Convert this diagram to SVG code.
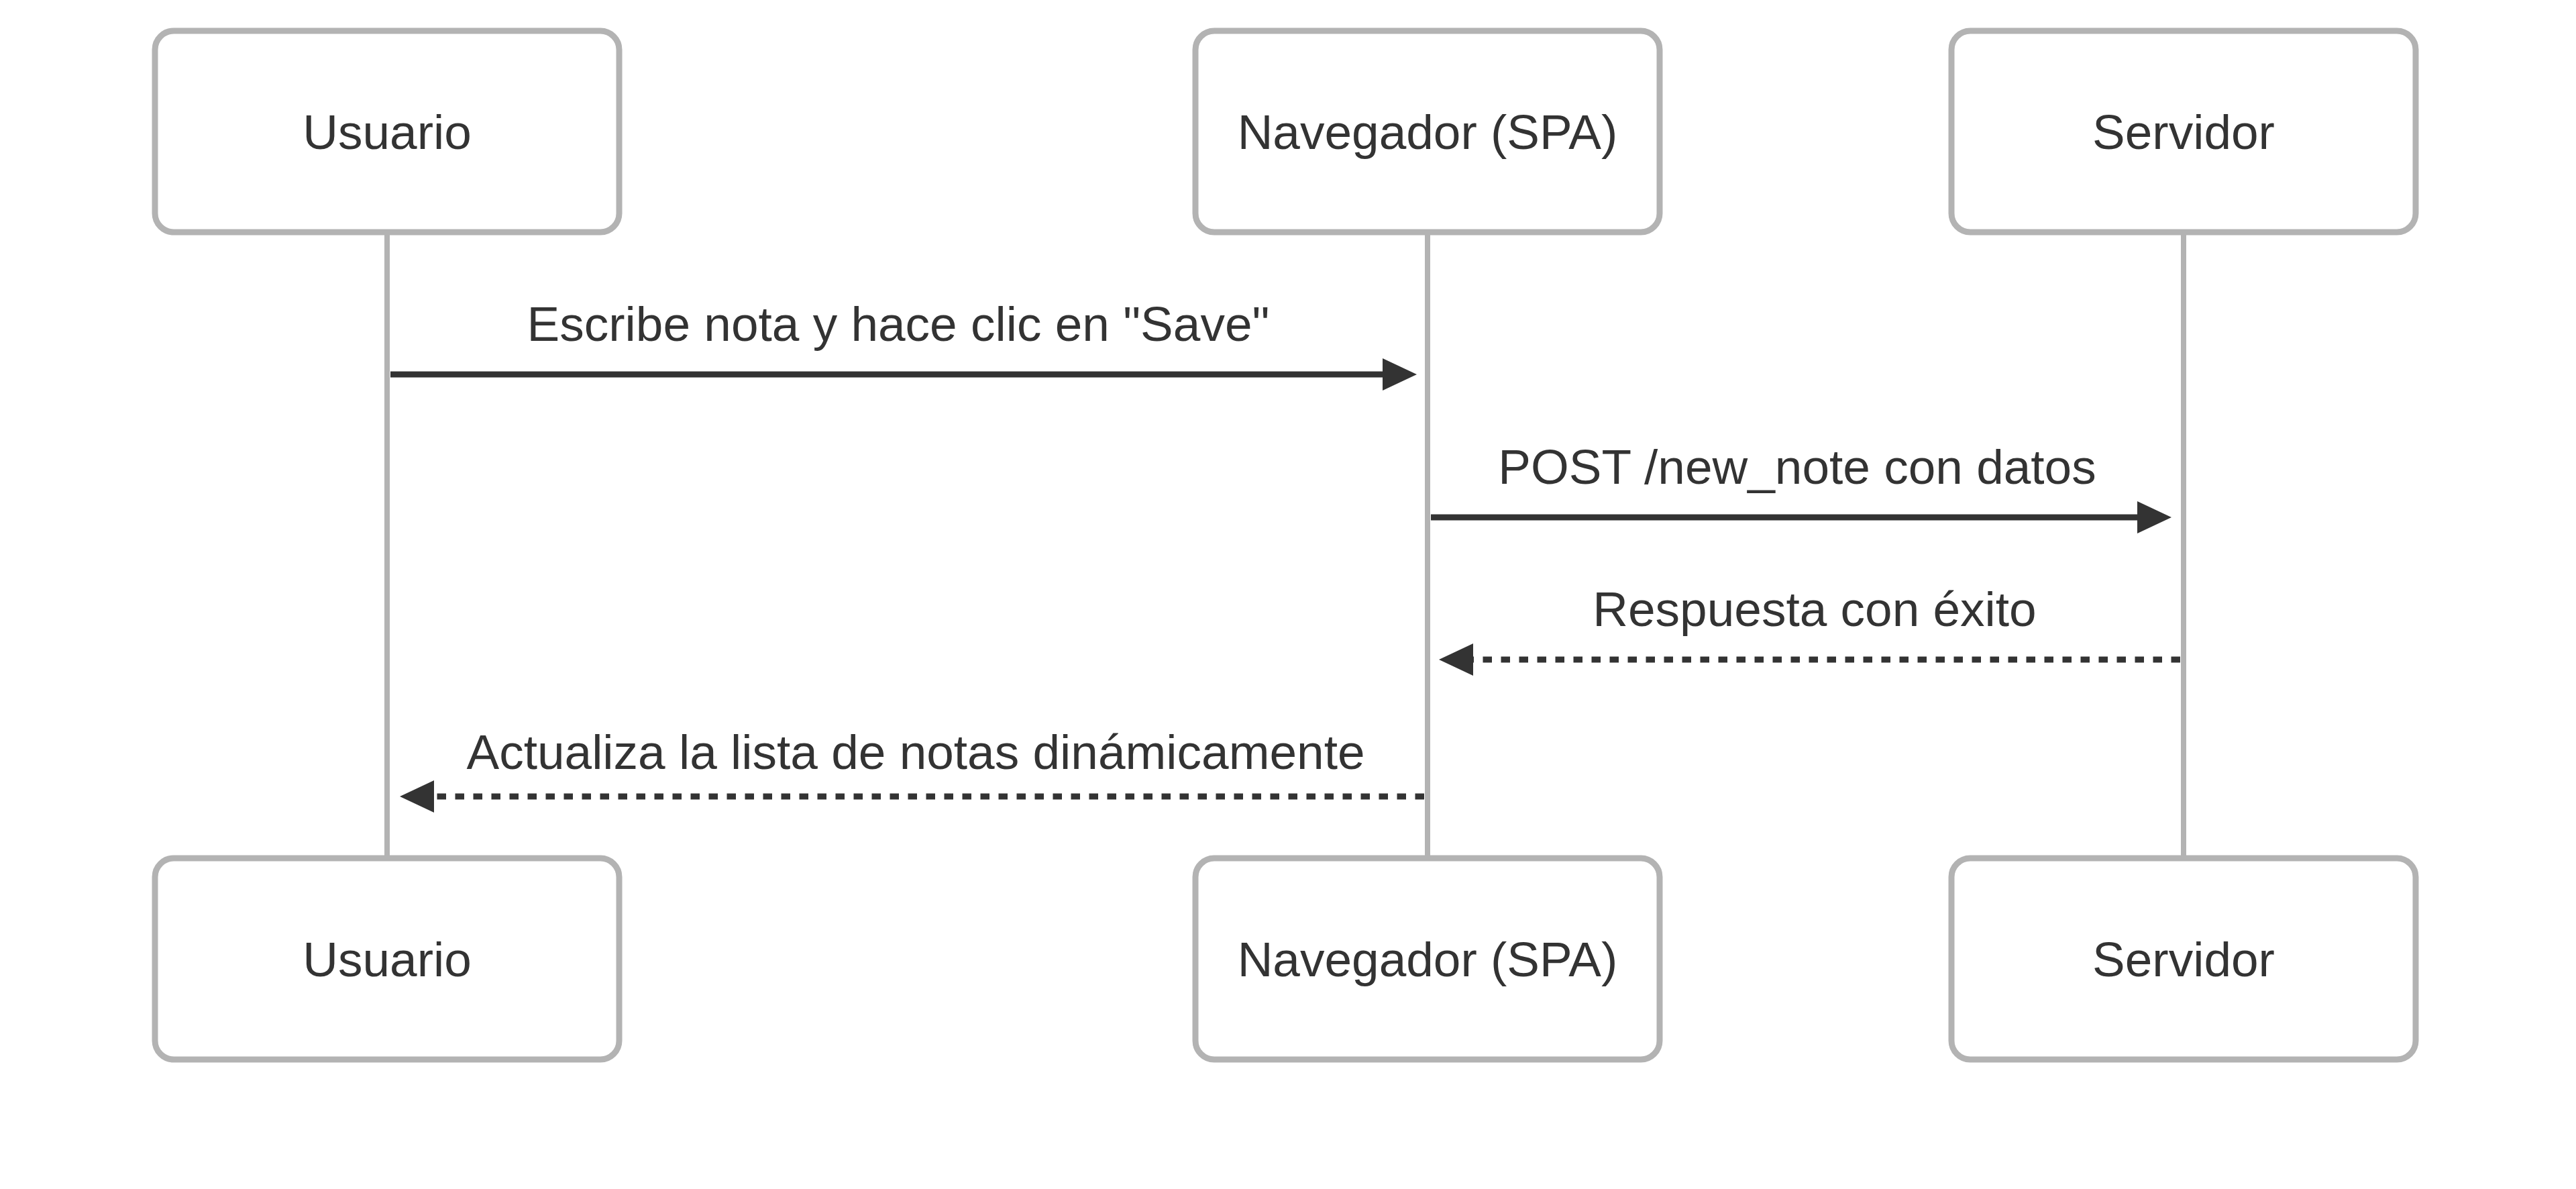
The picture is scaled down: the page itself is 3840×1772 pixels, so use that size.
<svg xmlns="http://www.w3.org/2000/svg" width="3840" height="1772" viewBox="0 0 3840 1772">
  <style>
    .actor { fill: #ffffff; stroke: #b3b3b3; stroke-width: 9; }
    .actor-text { font-family: "Liberation Sans", Arial, sans-serif; font-size: 73px; fill: #333333; text-anchor: middle; dominant-baseline: central; }
    .lifeline { stroke: #b3b3b3; stroke-width: 8; fill: none; }
    .msg { stroke: #333333; stroke-width: 9; fill: none; }
    .dotted { stroke-dasharray: 13.5 13.5; }
    .msg-text { font-family: "Liberation Sans", Arial, sans-serif; font-size: 73px; fill: #333333; text-anchor: middle; }
  </style>
  <defs>
    <marker id="arrow" markerUnits="userSpaceOnUse" viewBox="0 0 51 48" markerWidth="51" markerHeight="48" refX="1" refY="24" orient="auto">
      <polygon points="0,0 51,24 0,48" fill="#333333"/>
    </marker>
  </defs>
  <rect width="3840" height="1772" fill="#ffffff"/>

  <g id="lifelines">
    <line class="lifeline" x1="577" y1="346" x2="577" y2="1279"/>
    <line class="lifeline" x1="2128" y1="346" x2="2128" y2="1279"/>
    <line class="lifeline" x1="3255" y1="346" x2="3255" y2="1279"/>
  </g>

  <g id="actor-usuario-top">
    <rect class="actor" x="231" y="46" width="692" height="300" rx="28" ry="28"/>
    <text class="actor-text" x="577" y="196">Usuario</text>
  </g>
  <g id="actor-navegador-top">
    <rect class="actor" x="1782" y="46" width="692" height="300" rx="28" ry="28"/>
    <text class="actor-text" x="2128" y="196">Navegador (SPA)</text>
  </g>
  <g id="actor-servidor-top">
    <rect class="actor" x="2909" y="46" width="692" height="300" rx="28" ry="28"/>
    <text class="actor-text" x="3255" y="196">Servidor</text>
  </g>

  <g id="actor-usuario-bottom">
    <rect class="actor" x="231" y="1279" width="692" height="300" rx="28" ry="28"/>
    <text class="actor-text" x="577" y="1429">Usuario</text>
  </g>
  <g id="actor-navegador-bottom">
    <rect class="actor" x="1782" y="1279" width="692" height="300" rx="28" ry="28"/>
    <text class="actor-text" x="2128" y="1429">Navegador (SPA)</text>
  </g>
  <g id="actor-servidor-bottom">
    <rect class="actor" x="2909" y="1279" width="692" height="300" rx="28" ry="28"/>
    <text class="actor-text" x="3255" y="1429">Servidor</text>
  </g>

  <g id="connectors">
    <text class="msg-text" x="1339" y="508">Escribe nota y hace clic en "Save"</text>
    <line class="msg" x1="582" y1="558" x2="2062" y2="558" marker-end="url(#arrow)"/>

    <text class="msg-text" x="2679" y="721">POST /new_note con datos</text>
    <line class="msg" x1="2133" y1="771" x2="3187" y2="771" marker-end="url(#arrow)"/>

    <text class="msg-text" x="2705" y="933">Respuesta con éxito</text>
    <line class="msg dotted" x1="3250" y1="983" x2="2195" y2="983" marker-end="url(#arrow)"/>

    <text class="msg-text" x="1365" y="1146">Actualiza la lista de notas dinámicamente</text>
    <line class="msg dotted" x1="2123" y1="1187" x2="646" y2="1187" marker-end="url(#arrow)"/>
  </g>
</svg>
